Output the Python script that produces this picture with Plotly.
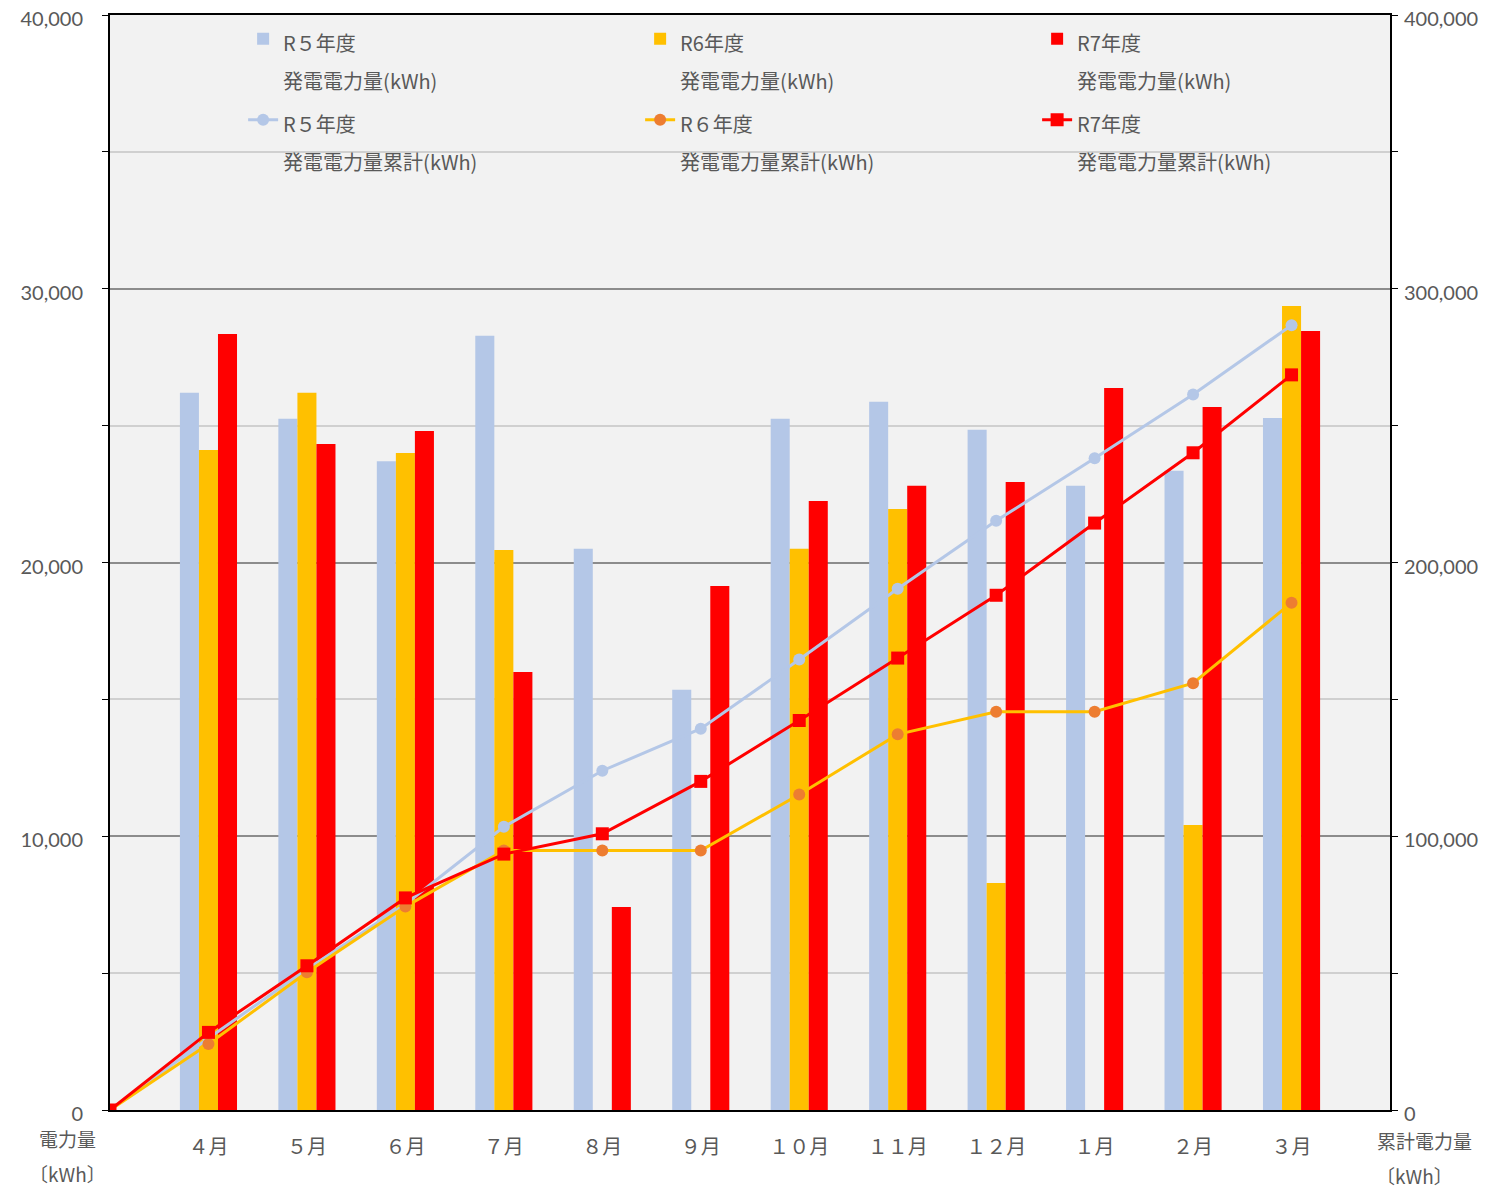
import plotly.graph_objects as go

# ---- data ----
month_labels = ["", "４月", "５月", "６月", "７月", "８月", "９月", "１０月", "１１月", "１２月", "１月", "２月", "３月"]
month_pos = list(range(13))
bar_pos = list(range(1, 13))

r5_monthly = [26200, 25250, 23700, 28280, 20500, 15350, 25250, 25870, 24850, 22800, 23350, 25280]
r6_monthly = [24110, 26200, 24000, 20460, 0, 0, 20500, 21950, 8290, 0, 10410, 29370]
r7_monthly = [28350, 24330, 24800, 16000, 7420, 19140, 22250, 22800, 22940, 26370, 25680, 28460]

r5_cumulative = [0, 26200, 51450, 75150, 103430, 123930, 139280, 164530, 190400, 215250, 238050, 261400, 286680]
r6_cumulative = [0, 24110, 50310, 74310, 94770, 94770, 94770, 115270, 137220, 145510, 145510, 155920, 185290]
r7_cumulative = [0, 28350, 52680, 77480, 93480, 100900, 120040, 142290, 165090, 188030, 214400, 240080, 268540]

bar_names = ["R５年度", "R6年度", "R7年度"]
line_names = ["R５年度", "R６年度", "R7年度"]
bar_sub = "発電電力量(kWh)"
line_sub = "発電電力量累計(kWh)"

C_R5 = "#B4C7E7"
C_R6 = "#FFC000"
C_R6_MK = "#ED7D31"
C_R7 = "#FF0000"
TXT = "#595959"
JP = "Noto Sans CJK JP"
NUM = "Lato"


def leg(a, b):
    return f"<span style='font-size:20px'>{a}</span><br><span style='font-size:20px'>{b}</span>"


fig = go.Figure()
for name, vals, col in zip(bar_names, [r5_monthly, r6_monthly, r7_monthly], [C_R5, C_R6, C_R7]):
    fig.add_trace(go.Bar(x=bar_pos, y=vals, name=leg(name, bar_sub), marker=dict(color=col, line=dict(width=0)),
                         yaxis="y"))

fig.add_trace(go.Scatter(x=month_pos, y=r5_cumulative, name=leg(line_names[0], line_sub), mode="lines+markers",
                         line=dict(color=C_R5, width=3), marker=dict(symbol="circle", size=12, color=C_R5),
                         yaxis="y2"))
fig.add_trace(go.Scatter(x=month_pos, y=r6_cumulative, name=leg(line_names[1], line_sub), mode="lines+markers",
                         line=dict(color=C_R6, width=3), marker=dict(symbol="circle", size=12, color=C_R6_MK),
                         yaxis="y2"))
fig.add_trace(go.Scatter(x=month_pos, y=r7_cumulative, name=leg(line_names[2], line_sub), mode="lines+markers",
                         line=dict(color=C_R7, width=3), marker=dict(symbol="square", size=13, color=C_R7),
                         yaxis="y2"))

# page body has an 8px margin, so the figure is 8px smaller and margins shifted accordingly
fig.update_layout(
    width=1481, height=1182,
    margin=dict(l=102, r=99, t=7, b=80, autoexpand=False),
    paper_bgcolor="white",
    plot_bgcolor="#F2F2F2",
    barmode="group",
    bargap=0.42,
    bargroupgap=0,
    font=dict(family=JP, color=TXT, size=20),
    showlegend=True,
    legend=dict(
        orientation="h", x=0.104, xanchor="left", y=1.002, yanchor="top",
        entrywidth=352, entrywidthmode="pixels",
        font=dict(size=30, family=JP, color=TXT),
        bgcolor="rgba(0,0,0,0)", valign="top", tracegroupgap=0,
    ),
    xaxis=dict(
        range=[0, 13], tickmode="array", tickvals=month_pos, ticktext=month_labels, automargin=False,
        showgrid=False, zeroline=False, showline=True, linecolor="black", linewidth=2, mirror=True,
        ticks="", tickfont=dict(family=JP, size=20, color=TXT), ticklabelstandoff=18,
    ),
    yaxis=dict(
        range=[0, 40000], dtick=10000, tickformat=",d", automargin=False, ticklabeloverflow="allow",
        showgrid=True, gridcolor="#8C8C8C", gridwidth=1.5, zeroline=False,
        showline=True, linecolor="black", linewidth=2, mirror=True,
        ticks="outside", ticklen=6, tickcolor="black",
        minor=dict(dtick=5000, showgrid=True, gridcolor="#D0D0D0", gridwidth=1.5, ticks="outside", ticklen=6,
                   tickcolor="black"),
        tickfont=dict(family=NUM, size=20, color=TXT), ticklabelstandoff=15, ticklabelshift=4,
    ),
    yaxis2=dict(
        range=[0, 400000], dtick=100000, tickformat=",d", overlaying="y", side="right", automargin=False,
        ticklabeloverflow="allow",
        showgrid=False, zeroline=False, showline=True, linecolor="black", linewidth=2,
        ticks="outside", ticklen=6, tickcolor="black",
        minor=dict(dtick=50000, ticks="outside", ticklen=6, tickcolor="black"),
        tickfont=dict(family=NUM, size=20, color=TXT), ticklabelstandoff=2, ticklabelshift=4,
    ),
    annotations=[
        dict(text="電力量", xref="paper", yref="paper", x=-0.0329, y=-0.026, xanchor="center", yanchor="middle",
             showarrow=False, font=dict(family=JP, size=19, color=TXT)),
        dict(text="〔kWh〕", xref="paper", yref="paper", x=-0.0329, y=-0.058, xanchor="center", yanchor="middle",
             showarrow=False, font=dict(family=JP, size=19, color=TXT)),
        dict(text="累計電力量", xref="paper", yref="paper", x=1.0273, y=-0.028, xanchor="center", yanchor="middle",
             showarrow=False, font=dict(family=JP, size=19, color=TXT)),
        dict(text="〔kWh〕", xref="paper", yref="paper", x=1.0195, y=-0.060, xanchor="center", yanchor="middle",
             showarrow=False, font=dict(family=JP, size=19, color=TXT)),
    ],
)

fig.write_html("out.html")
